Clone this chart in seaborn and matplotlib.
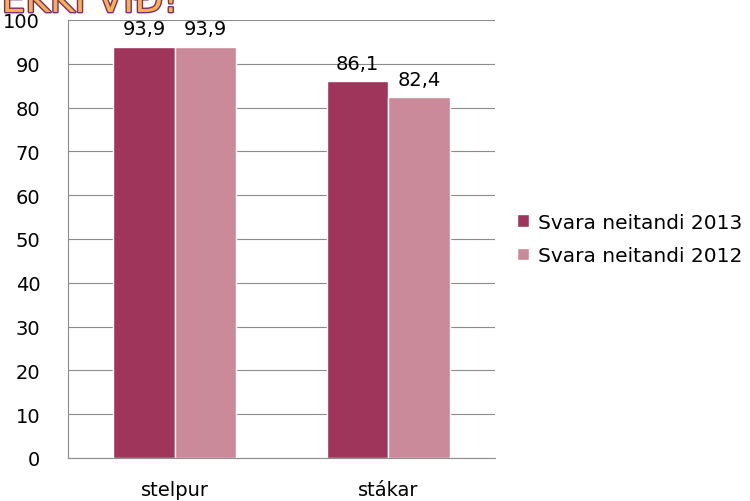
import matplotlib
matplotlib.use("Agg")
import matplotlib.pyplot as plt
import matplotlib.patheffects as pe
import seaborn as sns
import pandas as pd

categories = ["stelpur", "stákar"]
series = ["Svara neitandi 2013", "Svara neitandi 2012"]
values_2013 = [93.9, 86.1]
values_2012 = [93.9, 82.4]
yticks = [0, 10, 20, 30, 40, 50, 60, 70, 80, 90, 100]

df = pd.DataFrame({
    "cat": categories * 2,
    "series": [series[0]] * 2 + [series[1]] * 2,
    "val": values_2013 + values_2012,
})

sns.set_style("white")
plt.rcParams['font.family'] = ['DejaVu Sans']
plt.rcParams['text.color'] = 'black'
plt.rcParams['xtick.color'] = 'black'
plt.rcParams['ytick.color'] = 'black'

fig = plt.figure(figsize=(7.5, 5.02), dpi=100)
ax = fig.add_axes([68/750, 1 - 459/502, 427/750, 438/502])

palette = ["#A0355B", "#CB8A9A"]
sns.barplot(data=df, x="cat", y="val", hue="series", palette=palette,
            width=0.575, saturation=1, ax=ax, legend=True)

ax.set_ylim(0, 100)
ax.set_xlim(-0.5, 1.5)
ax.set_yticks(yticks)
ax.set_yticklabels([str(t) for t in yticks], fontsize=14)
ax.tick_params(axis='x', labelsize=14, length=0, pad=16)
ax.tick_params(axis='y', length=0, pad=20)
ax.set_xlabel("")
ax.set_ylabel("")
ax.yaxis.grid(True, color="#8c8c8c", linewidth=0.8)
ax.set_axisbelow(True)
for s in ["top", "right"]:
    ax.spines[s].set_visible(False)
ax.spines["left"].set_color("#8c8c8c")
ax.spines["bottom"].set_color("#8c8c8c")

for cont in ax.containers:
    ax.bar_label(cont, labels=[f"{v:.1f}".replace(".", ",") for v in cont.datavalues],
                 fontsize=14, padding=6, color="black")

leg = ax.legend(loc="center left", bbox_to_anchor=(1.01, 0.5), frameon=False,
                fontsize=14.5, handlelength=0.6, handleheight=0.6, handletextpad=0.4,
                labelspacing=0.7)

fig.text(178/750, 1 - 13/502, "EKKI VIÐ!", fontsize=27, ha="right", va="baseline",
         color="#F8B04C",
         path_effects=[pe.withStroke(linewidth=2, foreground="#7A2E6E")])

fig.savefig("out.png", dpi=100)
